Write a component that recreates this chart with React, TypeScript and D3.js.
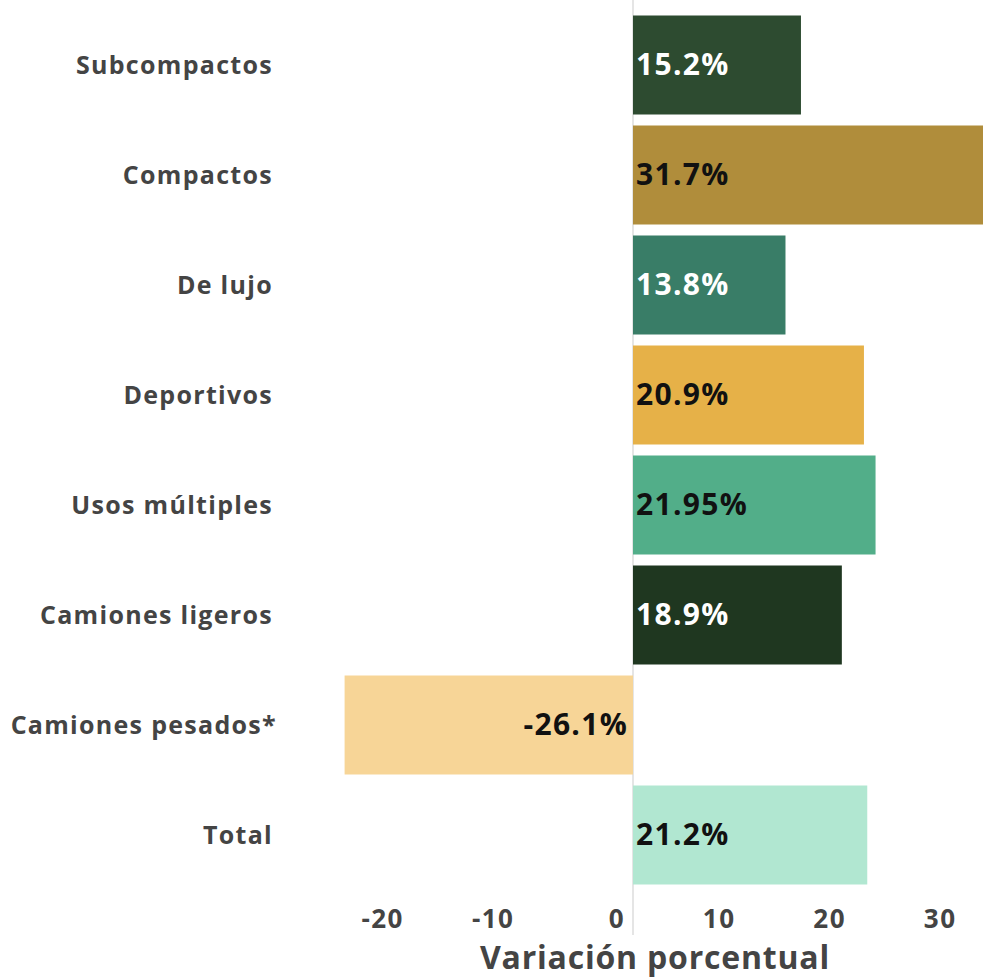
import React, { useEffect, useRef } from 'react'
import * as d3 from 'd3'

const categories = [
	'Subcompactos',
	'Compactos',
	'De lujo',
	'Deportivos',
	'Usos múltiples',
	'Camiones ligeros',
	'Camiones pesados*',
	'Total'
]
const values = [15.2, 31.7, 13.8, 20.9, 21.95, 18.9, -26.1, 21.2]
const valueLabels = ['15.2%', '31.7%', '13.8%', '20.9%', '21.95%', '18.9%', '-26.1%', '21.2%']
const barColors = ['#2d4b30', '#b08d3b', '#397d67', '#e6b148', '#52ae89', '#1f3720', '#f7d597', '#b1e7d1']
const labelColors = ['#fff', '#111', '#fff', '#111', '#111', '#fff', '#111', '#111']
const tickValues = [-20, -10, 0, 10, 20, 30]
const axisTitle = 'Variación porcentual'

const App = () => {
	const ref = useRef<SVGSVGElement>(null)

	const width = 983
	const height = 979
	const font = "'Open Sans', sans-serif"

	useEffect(() => {
		if (!ref.current) return
		const svg = d3.select(ref.current)
		svg.selectAll('*').remove()

		const x = d3.scaleLinear().domain([-30, 35]).range([301.5, 1019.75])
		const y = d3.scaleBand().domain(categories).range([10, 890]).paddingInner(0.1).paddingOuter(0.05)

		const rows = categories.map((c, i) => ({ c, v: values[i], i }))

		// zero line
		svg
			.append('line')
			.attr('x1', x(0))
			.attr('x2', x(0))
			.attr('y1', 0)
			.attr('y2', 935)
			.attr('stroke', '#dddddd')
			.attr('stroke-width', 1.5)

		svg
			.append('g')
			.selectAll('rect')
			.data(rows)
			.join('rect')
			.attr('x', d => x(Math.min(0, d.v)))
			.attr('width', d => Math.abs(x(d.v) - x(0)))
			.attr('y', d => y(d.c))
			.attr('height', y.bandwidth())
			.attr('fill', d => barColors[d.i])

		// value labels
		svg
			.append('g')
			.selectAll('text')
			.data(rows)
			.join('text')
			.attr('x', d => (d.v < 0 ? x(0) - 5 : x(0) + 3))
			.attr('y', d => y(d.c) + y.bandwidth() / 2 + 10)
			.attr('text-anchor', d => (d.v < 0 ? 'end' : 'start'))
			.attr('font-family', font)
			.attr('font-weight', 700)
			.attr('font-size', 30)
			.attr('letter-spacing', 1.3)
			.attr('fill', d => labelColors[d.i])
			.text(d => valueLabels[d.i])

		// category labels
		svg
			.append('g')
			.selectAll('text')
			.data(rows)
			.join('text')
			.attr('x', d => (d.c.endsWith('*') ? 277 : 273))
			.attr('y', d => y(d.c) + y.bandwidth() / 2 + 9)
			.attr('text-anchor', 'end')
			.attr('font-family', font)
			.attr('font-weight', 700)
			.attr('font-size', 25)
			.attr('letter-spacing', 1.3)
			.attr('fill', '#444444')
			.text(d => d.c)

		// x tick labels
		svg
			.append('g')
			.selectAll('text')
			.data(tickValues)
			.join('text')
			.attr('x', d => x(d) - 8)
			.attr('y', 928)
			.attr('text-anchor', 'end')
			.attr('font-family', font)
			.attr('font-weight', 700)
			.attr('font-size', 26)
			.attr('letter-spacing', 1.5)
			.attr('fill', '#444444')
			.text(d => String(d))

		svg
			.append('text')
			.attr('x', 655)
			.attr('y', 969)
			.attr('text-anchor', 'middle')
			.attr('font-family', font)
			.attr('font-weight', 700)
			.attr('font-size', 32)
			.attr('letter-spacing', 0.8)
			.attr('fill', '#444444')
			.text(axisTitle)
	}, [])

	return (
		<svg
			width={width}
			height={height}
			ref={ref}
			style={{ position: 'absolute', left: 0, top: 0, background: '#fff' }}
		></svg>
	)
}

export default App
